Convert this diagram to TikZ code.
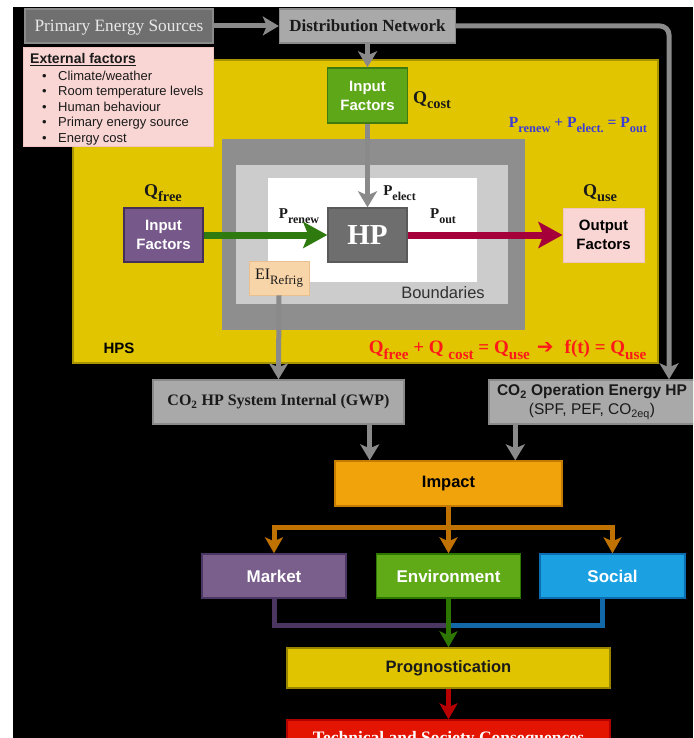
\documentclass[tikz,border=0pt]{standalone}
\usepackage{fontspec}
\usepackage{graphicx}
\setmainfont{Liberation Serif}
\setsansfont{Liberation Sans}
\newfontfamily\dejavu{DejaVu Sans}
\usetikzlibrary{arrows.meta,calc}
\newcommand\fsz[2]{\fontsize{#1}{#2}\selectfont}
\newcommand\lsub[1]{\raisebox{-0.3em}{\scalebox{0.8}{#1}}}
\definecolor{cpes}{HTML}{6F6F6F}
\definecolor{cpesb}{HTML}{8A8A8A}
\definecolor{cpest}{HTML}{E8E8E8}
\definecolor{cdn}{HTML}{A9A9A9}
\definecolor{cdnb}{HTML}{8A8A8A}
\definecolor{cgray}{HTML}{8A8A8A}
\definecolor{cyel}{HTML}{E0C500}
\definecolor{cyelb}{HTML}{A89300}
\definecolor{cpink}{HTML}{F9D6D3}
\definecolor{cpinkb}{HTML}{F0C4C0}
\definecolor{cbA}{HTML}{8E8E8E}
\definecolor{cbB}{HTML}{CCCCCC}
\definecolor{chp}{HTML}{6E6E6E}
\definecolor{chpb}{HTML}{5A5A5A}
\definecolor{cgreen}{HTML}{5EA718}
\definecolor{cgreenb}{HTML}{3E7A10}
\definecolor{cpurp}{HTML}{76598A}
\definecolor{cpurpb}{HTML}{432F57}
\definecolor{cgarrow}{HTML}{2E7A0E}
\definecolor{ccrim}{HTML}{A6003A}
\definecolor{cpeach}{HTML}{F8D5A8}
\definecolor{cpeachb}{HTML}{E8C090}
\definecolor{cblue}{HTML}{3C3CD6}
\definecolor{cred}{HTML}{FF1A1A}
\definecolor{corange}{HTML}{F0A30A}
\definecolor{corangeb}{HTML}{C47B00}
\definecolor{coline}{HTML}{BF7200}
\definecolor{cmarket}{HTML}{7A5F8C}
\definecolor{cmarketb}{HTML}{4C3663}
\definecolor{cmline}{HTML}{4B3561}
\definecolor{cenv}{HTML}{60A917}
\definecolor{cenvb}{HTML}{2D7600}
\definecolor{csoc}{HTML}{1BA1E2}
\definecolor{csocb}{HTML}{0A6EB0}
\definecolor{csline}{HTML}{1369A8}
\definecolor{cprog}{HTML}{E0C400}
\definecolor{cprogb}{HTML}{9A8500}
\definecolor{cdred}{HTML}{B80000}
\definecolor{ctech}{HTML}{E31400}
\definecolor{ctechb}{HTML}{B00000}
\definecolor{ctxt}{HTML}{1A1A1A}
\tikzset{
  bx/.style={draw, line width=1.4pt, inner sep=0pt, align=center},
  lab/.style={inner sep=0pt, font=\bfseries\fsz{18}{20}, text=ctxt},
  plab/.style={inner sep=0pt, font=\bfseries\fsz{15}{17}, text=ctxt},
  sfb/.style={font=\sffamily\bfseries\fsz{15}{19}},
  bigsf/.style={font=\sffamily\bfseries\fsz{17}{20}},
  garrow/.style={draw=cgray, line width=5pt, -{Stealth[length=16pt,width=19pt,inset=4pt]}},
  oarrow/.style={draw=coline, line width=5pt, -{Stealth[length=16pt,width=18pt,inset=4pt]}},
  fatarrow/.style={line width=7pt, -{Stealth[length=24pt,width=26pt,inset=5pt]}},
  item/.style={anchor=base west, inner sep=0pt, font=\sffamily\fsz{13}{15}, text=ctxt}
}
\begin{document}
\begin{tikzpicture}[x=1pt,y=-1pt]
\useasboundingbox (0,0) rectangle (693,738);
\clip (0,0) rectangle (693,738);
\fill[white] (0,0) rectangle (693,738);
\fill[black] (13,7) rectangle (693,738);

% top row
\node[bx, fill=cpes, draw=cpesb, minimum width=188pt, minimum height=34pt, text=cpest] (pes) at (119,26) {};
\node[anchor=base, inner sep=0pt, text=cpest, font=\fsz{17.3}{19}] (pestxt) at (119,31.5) {Primary Energy Sources};
\node[bx, fill=cdn, draw=cdnb, minimum width=176pt, minimum height=34pt, text=ctxt, font=\bfseries\fsz{17}{19}] (dn) at (367.5,26) {Distribution Network};

% HPS
\node[bx, fill=cyel, draw=cyelb, minimum width=585pt, minimum height=303pt] (hps) at (365.5,211.5) {};
\node[bx, fill=cpink, draw=cpinkb, line width=1pt, minimum width=190pt, minimum height=99pt] (ext) at (118,97.5) {};
\node[anchor=base west, inner sep=0pt, font=\sffamily\bfseries\fsz{14}{16}, text=ctxt] (exttitle) at (30,63.5) {\underline{External factors}};
\foreach \n/\t [count=\k from 0] in {e1/Climate\slash weather, e2/Room temperature levels, e3/Human behaviour, e4/Primary energy source, e5/Energy cost}
  \node[item] (\n) at (42,80.5+15.5*\k) {\makebox[16pt][l]{\textbullet}\t};

\node[bx, fill=cgreen, draw=cgreenb, minimum width=80pt, minimum height=55pt, text=white, sfb] (topin) at (367.5,95.5) {Input\\Factors};
\node[lab] (qcost) at (432,100) {Q\lsub{cost}};
\node[inner sep=0pt, font=\bfseries\fsz{15.5}{17}, text=cblue] (pform) at (578,125) {P\lsub{renew} + P\lsub{elect.} = P\lsub{out}};

\node[fill=cbA, minimum width=303pt, minimum height=191pt] (bout) at (373.5,234.5) {};
\node[fill=cbB, minimum width=272pt, minimum height=139pt] (bmid) at (372,234.5) {};
\node[fill=white, minimum width=209pt, minimum height=104pt] (bin) at (372.5,230) {};
\node[inner sep=0pt, font=\sffamily\fsz{16.5}{18}, text=ctxt!90] (bndtxt) at (443,293) {Boundaries};

\node[bx, fill=chp, draw=chpb, minimum width=79pt, minimum height=54pt, text=white, font=\bfseries\fsz{29}{30}] (hp) at (367.5,235) {HP};
\node[bx, fill=cpurp, draw=cpurpb, minimum width=79pt, minimum height=54pt, text=white, sfb] (leftin) at (163.5,235) {Input\\Factors};
\node[bx, fill=cpink, draw=cpinkb, line width=1pt, minimum width=81pt, minimum height=54pt, text=black, sfb] (out) at (603.5,235) {Output\\Factors};
\node[bx, fill=cpeach, draw=cpeachb, line width=0.8pt, minimum width=60pt, minimum height=34pt, text=ctxt, font=\fsz{16}{18}] (ei) at (279,278) {EI\lsub{Refrig}};

\node[lab] (qfree) at (163,193) {Q\lsub{free}};
\node[lab] (quse) at (600,193) {Q\lsub{use}};
\node[plab] (prenew) at (299,216) {P\lsub{renew}};
\node[plab] (pelect) at (399.5,193) {P\lsub{elect}};
\node[plab] (pout) at (443,216) {P\lsub{out}};

\node[inner sep=0pt, font=\sffamily\bfseries\fsz{15}{17}, text=black] (hpslab) at (119,348) {HPS};
\node[inner sep=0pt, font=\bfseries\fsz{19}{21}, text=cred] (rform) at (507.5,350) {Q\lsub{free} + Q \lsub{cost} = Q\lsub{use}\hspace{7pt}{\dejavu\fsz{20}{20}➔}\hspace{11pt}f(t) = Q\lsub{use}};

% CO2 boxes
\node[bx, fill=cdn, draw=cdnb, minimum width=251pt, minimum height=44pt, text=ctxt, font=\bfseries\fsz{16}{18}] (co2a) at (278.5,402) {CO\textsubscript{2} HP System Internal (GWP)};
\node[bx, fill=cdn, draw=cdnb, minimum width=206pt, minimum height=44pt, text=ctxt, font=\sffamily\fsz{15.5}{19}] (co2b) at (592,402) {\textbf{CO\textsubscript{2} Operation Energy HP}\\(SPF, PEF, CO\textsubscript{2eq})};

% Impact and below
\node[bx, fill=corange, draw=corangeb, minimum width=227pt, minimum height=45pt, text=black, font=\sffamily\bfseries\fsz{16.5}{18}] (impact) at (448.5,483.5) {Impact};
\node[bx, fill=cmarket, draw=cmarketb, minimum width=144pt, minimum height=44pt, text=white, bigsf] (market) at (274,576) {Market};
\node[bx, fill=cenv, draw=cenvb, minimum width=144pt, minimum height=44pt, text=white, bigsf] (env) at (448.5,576) {Environment};
\node[bx, fill=csoc, draw=csocb, minimum width=145pt, minimum height=44pt, text=white, bigsf] (social) at (612.5,576) {Social};
\node[bx, fill=cprog, draw=cprogb, minimum width=323pt, minimum height=40pt, text=ctxt, font=\sffamily\bfseries\fsz{16.5}{18}] (prog) at (448.5,668) {Prognostication};
\node[bx, fill=ctech, draw=ctechb, minimum width=323pt, minimum height=44pt] (tech) at (448.5,742) {};
\node[anchor=base, inner sep=0pt, text=white, font=\bfseries\fsz{17.5}{19}] (techtxt) at (448.5,743) {Technical and Society Consequences};

% connectors
\coordinate (cright) at (669,0);
\coordinate (join) at (448.5,625);
\draw[garrow] (pes.east) -- (dn.west);
\draw[garrow, rounded corners=9pt] (dn.east) -| (co2b.north -| cright);
\draw[garrow] (dn.south) -- (topin.north);
\draw[garrow] (topin.south) -- (hp.north);
\draw[fatarrow, draw=cgarrow] (leftin.east) -- (hp.west);
\draw[fatarrow, draw=ccrim] (hp.east) -- (out.west);
\draw[garrow] (ei.south) -- (co2a.north);
\draw[garrow] ([xshift=-35pt]co2a.south east) -- ([xshift=-35pt]co2a.south east |- impact.north);
\draw[garrow] ([xshift=27pt]co2b.south west) -- ([xshift=27pt]co2b.south west |- impact.north);
\draw[oarrow] (impact.south) -- (env.north);
\draw[oarrow] (impact.south) -- ++(0,21) -| (market.north);
\draw[oarrow] (impact.south) -- ++(0,21) -| (social.north);
\draw[draw=cmline, line width=5pt] (market.south) |- (join);
\draw[draw=csline, line width=5pt] ([xshift=-10.5pt]social.south) |- (join);
\draw[draw=cenvb, line width=5pt, -{Stealth[length=16pt,width=18pt,inset=4pt]}] (env.south) -- (prog.north);
\draw[draw=cdred, line width=5pt, -{Stealth[length=16pt,width=18pt,inset=4pt]}] (prog.south) -- (tech.north);
\end{tikzpicture}
\end{document}
